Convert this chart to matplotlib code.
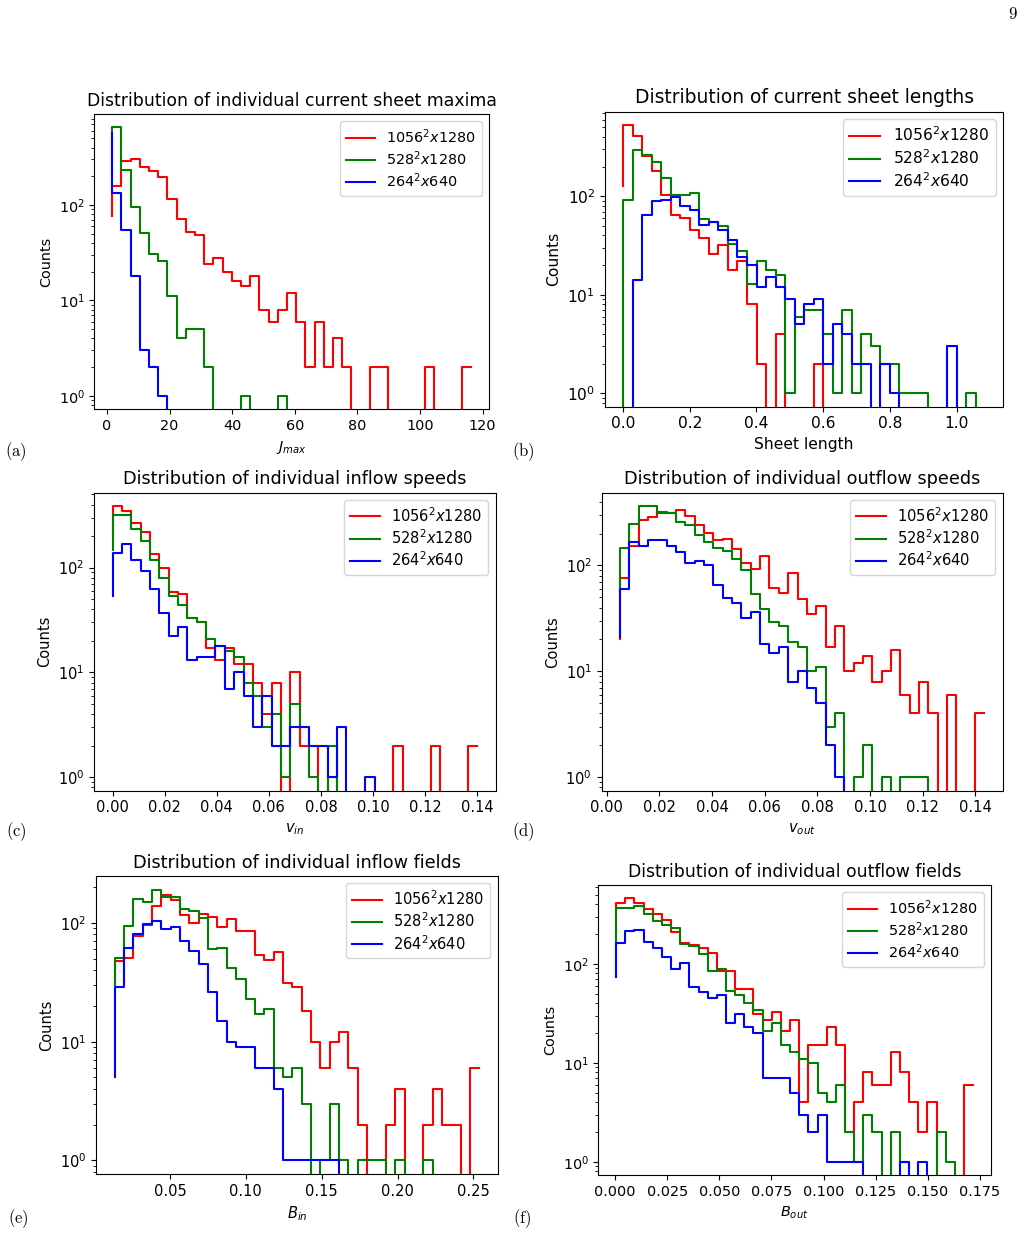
import numpy as np
import matplotlib
matplotlib.use("Agg")
from matplotlib import pyplot as plt

# histogram counts, plotted with plt.step (where="pre")
labels = [r"$1056^2x1280$", r"$528^2x1280$", r"$264^2x640$"]
colors = ["red", "green", "blue"]

jmax_x = np.linspace(1.7, 116.3, 40)
jmax_1056 = [76, 157, 290, 307, 251, 228, 197, 115, 71, 52, 48, 24, 28, 20, 16, 14, 18, 8, 6, 8,
             12, 6, 2, 6, 2, 4, 2, 0, 0, 2, 2, 0, 0, 0, 0, 2, 0, 0, 0, 2]
jmax_528 = [200, 650, 235, 95, 51, 31, 26, 11, 4, 5, 5, 2, 0, 0, 0, 1, 0, 0, 0, 1] + [0] * 20
jmax_264 = [571, 132, 55, 18, 3, 2, 1] + [0] * 33

length_x = np.linspace(0.0, 1.086, 39)
length_1056 = [128, 528, 409, 257, 182, 104, 65, 60, 46, 38, 26, 32, 18, 22, 8, 2, 0, 4, 0, 0,
               0, 2] + [0] * 17
length_528 = [0, 92, 293, 261, 224, 153, 104, 103, 107, 59, 55, 50, 33, 28, 13, 22, 18, 16, 1, 6,
              7, 7, 4, 1, 7, 1, 4, 3, 2, 2, 1, 1, 1, 0, 0, 0, 0, 1, 0]
length_264 = [0, 0, 14, 65, 90, 92, 99, 79, 73, 51, 55, 46, 36, 24, 20, 12, 15, 12, 9, 5,
              8, 9, 2, 5, 4, 2, 2, 0, 2, 1, 0, 0, 0, 0, 0, 3, 0, 0, 0]

vin_x = np.linspace(0.0, 0.1401, 40)
vin_1056 = [200, 385, 348, 269, 221, 136, 99, 59, 56, 33, 30, 17, 13, 17, 12, 12, 8, 4, 8, 0,
            10, 2, 2, 0, 1, 0, 0, 0, 0, 0, 0, 2, 0, 0, 0, 2, 0, 0, 0, 2]
vin_528 = [146, 321, 321, 236, 180, 117, 79, 54, 44, 33, 30, 21, 18, 16, 14, 8, 6, 3, 4, 1,
           5, 3, 1, 0, 2] + [0] * 15
vin_264 = [54, 138, 167, 117, 93, 62, 37, 22, 27, 13, 14, 14, 18, 7, 10, 6, 3, 6, 2, 2,
           3, 3, 2, 2, 1, 3, 0, 0, 1] + [0] * 11

vout_x = np.linspace(0.005, 0.1435, 40)
vout_1056 = [20, 76, 152, 268, 288, 321, 314, 338, 294, 244, 203, 176, 178, 142, 106, 92, 122, 61, 55, 85,
             48, 35, 41, 17, 27, 10, 12, 14, 8, 10, 16, 6, 4, 8, 4, 0, 6, 0, 0, 4]
vout_528 = [58, 147, 249, 363, 363, 310, 310, 258, 240, 196, 165, 147, 138, 114, 90, 54, 39, 29, 27, 19,
            17, 10, 11, 3, 4, 0, 1, 2, 0, 1, 0, 1, 1, 1] + [0] * 6
vout_264 = [21, 60, 165, 152, 173, 173, 152, 135, 106, 110, 101, 65, 49, 44, 32, 36, 18, 15, 17, 8,
            10, 7, 5, 2, 1] + [0] * 15

bin_x = np.linspace(0.0135, 0.254, 40)
bin_1056 = [30, 48, 51, 78, 96, 138, 171, 157, 117, 100, 119, 112, 92, 108, 86, 86, 54, 49, 57, 31,
            29, 18, 10, 6, 10, 12, 6, 2, 0, 0, 2, 4, 0, 0, 2, 4, 2, 2, 0, 6]
bin_528 = [30, 51, 94, 159, 150, 191, 166, 166, 131, 127, 110, 60, 61, 42, 34, 23, 17, 19, 6, 5,
           6, 3, 0, 1, 3, 1, 0, 1, 1, 1, 0, 1, 0, 0, 1] + [0] * 5
bin_264 = [5, 29, 62, 80, 97, 103, 89, 92, 71, 58, 45, 26, 15, 10, 9, 9, 6, 6, 4, 1,
           1, 1, 1, 1, 1] + [0] * 15

bout_x = np.linspace(0.0005, 0.1718, 40)
bout_1056 = [170, 414, 461, 414, 360, 321, 275, 211, 163, 155, 143, 128, 84, 84, 56, 56, 31, 27, 33, 21,
             27, 4, 15, 15, 23, 15, 2, 4, 8, 6, 6, 13, 8, 4, 2, 4, 0, 0, 0, 6]
bout_528 = [165, 369, 369, 380, 321, 271, 245, 231, 158, 152, 126, 85, 88, 53, 48, 40, 34, 21, 25, 15,
            13, 11, 10, 5, 4, 6, 2, 1, 3, 2, 0, 2, 1, 0, 0, 0, 2, 1, 0, 0]
bout_264 = [73, 163, 214, 222, 167, 146, 118, 88, 101, 58, 52, 45, 48, 25, 31, 23, 20, 7, 7, 7,
            5, 3, 2, 3, 1, 1, 1, 1, 0, 0, 0, 0, 1, 0, 1, 0, 0, 0, 0, 0]

titles = [
    "Distribution of individual current sheet maxima",
    "Distribution of current sheet lengths",
    "Distribution of individual inflow speeds",
    "Distribution of individual outflow speeds",
    "Distribution of individual inflow fields",
    "Distribution of individual outflow fields",
]
xlabels = [r"$J_{max}$", "Sheet length", r"$v_{in}$", r"$v_{out}$", r"$B_{in}$", r"$B_{out}$"]
tags = ["(a)", "(b)", "(c)", "(d)", "(e)", "(f)"]

panels = [
    (jmax_x, [jmax_1056, jmax_528, jmax_264]),
    (length_x, [length_1056, length_528, length_264]),
    (vin_x, [vin_1056, vin_528, vin_264]),
    (vout_x, [vout_1056, vout_528, vout_264]),
    (bin_x, [bin_1056, bin_528, bin_264]),
    (bout_x, [bout_1056, bout_528, bout_264]),
]

W, H = 1025, 1243
# axes frames in pixels: left, right, top, bottom
frames = [
    (94.3, 489.0, 114.0, 409.3),
    (605.0, 1003.3, 111.7, 406.7),
    (94.3, 495.7, 492.7, 790.7),
    (601.7, 1002.7, 492.7, 790.7),
    (96.3, 497.7, 876.0, 1174.0),
    (598.3, 991.0, 885.0, 1175.0),
]
# each subfigure was scaled a little differently on the page
scales = [1.035, 1.12, 1.055, 1.06, 1.055, 1.035]
tag_pos = [(16, 452), (523, 452), (16, 832), (523, 832), (18, 1219), (522, 1219)]

fig = plt.figure(figsize=(W / 100, H / 100), dpi=100)

for i, (x, series) in enumerate(panels):
    l, r, t, b = frames[i]
    s = scales[i]
    ax = fig.add_axes([l / W, 1 - b / H, (r - l) / W, (b - t) / H])
    for counts, c, lab in zip(series, colors, labels):
        ax.step(x, counts, color=c, label=lab)
    ax.set_yscale("log")
    ax.set_title(titles[i], fontsize=12 * s)
    ax.set_xlabel(xlabels[i], fontsize=10 * s)
    ax.set_ylabel("Counts", fontsize=10 * s)
    ax.tick_params(labelsize=10 * s)
    ax.legend(loc="upper right", fontsize=10 * s, labelspacing=0.25)
    fig.text(tag_pos[i][0] / W, 1 - tag_pos[i][1] / H, r"$\mathrm{" + tags[i] + "}$",
             math_fontfamily="cm", fontsize=12, ha="center", va="center")

fig.text(1013 / W, 1 - 14 / H, r"$\mathrm{9}$", math_fontfamily="cm", fontsize=12,
         ha="center", va="center")

fig.savefig("out.png", dpi=100)
